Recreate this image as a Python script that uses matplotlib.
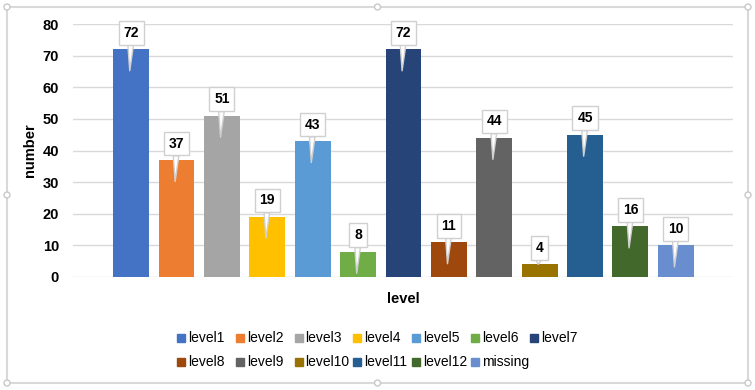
import matplotlib.pyplot as plt
from matplotlib.patches import Rectangle, Ellipse

# data
levels = ["level1", "level2", "level3", "level4", "level5", "level6", "level7",
          "level8", "level9", "level10", "level11", "level12", "missing"]
counts = [72, 37, 51, 19, 43, 8, 72, 11, 44, 4, 45, 16, 10]
colors = ["#4472C4", "#ED7D31", "#A5A5A5", "#FFC000", "#5B9BD5", "#70AD47", "#264478",
          "#9E480E", "#636363", "#997300", "#255E91", "#43682B", "#698ED0"]
yticks = [0, 10, 20, 30, 40, 50, 60, 70, 80]

plt.rcParams['font.family'] = ['Liberation Sans', 'DejaVu Sans']

W, H = 755, 390
fig = plt.figure(figsize=(W / 100, H / 100), dpi=100)
ax = fig.add_axes([73 / W, 1 - 277 / H, 660 / W, 253 / H])

x = list(range(len(levels)))
ax.bar(x, counts, width=0.79, color=colors, zorder=2)

# callout labels: white box above the bar, wedge pointing down into it
for xi, v in zip(x, counts):
    tip = v - 6.8 if v > 7 else v
    ax.annotate(str(v), xy=(xi - 0.03, tip), xycoords='data',
                xytext=(xi, v + 3.0), textcoords='data',
                ha='center', va='bottom', fontsize=10, fontweight='bold',
                bbox=dict(boxstyle='square,pad=0.35', fc='white', ec='#D0D0D0', lw=1),
                arrowprops=dict(arrowstyle='wedge,tail_width=0.4,shrink_factor=0.5',
                                fc='white', ec='#D0D0D0', lw=1,
                                shrinkA=0, shrinkB=0),
                annotation_clip=False, zorder=3)

ax.set_xlim(-1.28, 13.26)
ax.set_ylim(0, 80)
ax.set_yticks(yticks)
ax.set_xticks([])
for lab in ax.get_yticklabels():
    lab.set_fontweight('bold')
ax.tick_params(axis='y', length=0, labelsize=10.5, pad=10)
ax.grid(axis='y', color='#D9D9D9', lw=1, zorder=0)
for s in ax.spines.values():
    s.set_visible(False)

ax.set_ylabel('number', fontsize=10.5, fontweight='bold', labelpad=4)
fig.text(403 / W, 1 - 299 / H, 'level', ha='center', va='center',
         fontsize=10.5, fontweight='bold')

# legend drawn by hand so every entry gets the same width, as in the picture
for i, (lab, c) in enumerate(zip(levels, colors)):
    row, col = divmod(i, 7)
    px = 177 + 58.8 * col
    py = 338 + 24 * row
    fig.add_artist(Rectangle((px / W, 1 - (py + 4) / H), 8 / W, 8 / H,
                             transform=fig.transFigure, color=c))
    fig.text((px + 11) / W, 1 - py / H, lab, ha='left', va='center', fontsize=10)

# chart frame with its handles
fig.add_artist(Rectangle((7 / W, 7 / H), 741 / W, 376 / H,
                         transform=fig.transFigure, fill=False,
                         ec='#D9D9D9', lw=1.5))
for hx in (7, 377.5, 748):
    for hy in (7, 195, 383):
        if hx == 377.5 and hy == 195:
            continue
        fig.add_artist(Ellipse((hx / W, 1 - hy / H), 6 / W, 6 / H,
                               transform=fig.transFigure, fc='white',
                               ec='#C8C8C8', lw=1))

fig.savefig('out.png', dpi=100)
